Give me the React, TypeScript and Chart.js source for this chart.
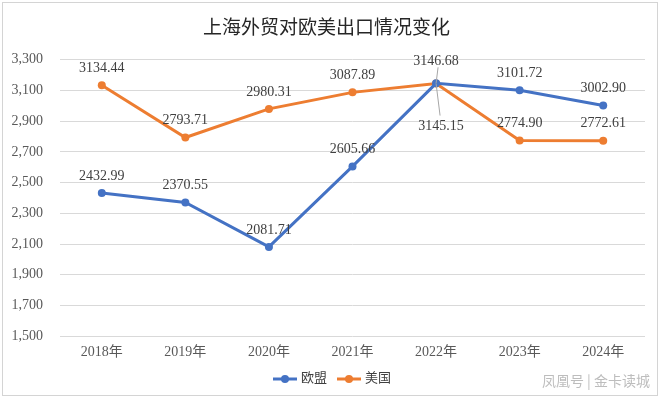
import React, { useEffect, useRef } from "react";
import { Chart, registerables } from "chart.js";

Chart.register(...registerables);

const titleText = "上海外贸对欧美出口情况变化";
const categories = ["2018年", "2019年", "2020年", "2021年", "2022年", "2023年", "2024年"];
const seriesNames = ["欧盟", "美国"];
const euValues = [2432.99, 2370.55, 2081.71, 2605.66, 3146.68, 3101.72, 3002.9];
const usValues = [3134.44, 2793.71, 2980.31, 3087.89, 3145.15, 2774.9, 2772.61];
const yMin = 1500;
const yMax = 3300;
const yStep = 200;
const watermark = "凤凰号 | 金卡读城";

const BLUE = "#4472C4";
const ORANGE = "#ED7D31";
const SERIF = "'Liberation Serif', 'DejaVu Serif', 'Noto Sans CJK SC', serif";

const valueLabels = {
  id: "valueLabels",
  afterDatasetsDraw(chart: any) {
    const ctx = chart.ctx;
    ctx.save();
    ctx.font = "14px " + SERIF;
    ctx.fillStyle = "#404040";
    ctx.textAlign = "center";
    ctx.textBaseline = "middle";
    chart.data.datasets.forEach((ds: any, di: number) => {
      const meta = chart.getDatasetMeta(di);
      meta.data.forEach((pt: any, i: number) => {
        const v = ds.data[i] as number;
        let dx = 0;
        let dy = -17;
        let leader = false;
        if (di === 0 && i === 4) {
          dy = -22;
          leader = true;
        }
        if (di === 1 && i === 4) {
          dx = 5;
          dy = 43;
          leader = true;
        }
        const tx = pt.x + dx;
        const ty = pt.y + dy;
        if (leader) {
          ctx.save();
          ctx.strokeStyle = "#a6a6a6";
          ctx.lineWidth = 1;
          ctx.beginPath();
          if (dy < 0) {
            ctx.moveTo(tx + 2, ty + 6);
            ctx.lineTo(pt.x, pt.y);
          } else {
            ctx.moveTo(pt.x, pt.y);
            ctx.lineTo(tx - 1, ty - 11);
          }
          ctx.stroke();
          ctx.restore();
        }
        ctx.fillText(v.toFixed(2), tx, ty);
      });
    });
    ctx.restore();
  },
};

const customLegend = {
  id: "customLegend",
  afterDraw(chart: any) {
    const ctx = chart.ctx;
    ctx.save();
    ctx.font = "13px " + SERIF;
    ctx.textBaseline = "middle";
    ctx.textAlign = "left";
    const lineW = 24;
    const gapText = 4;
    const gapItem = 10;
    const items = chart.data.datasets.map((ds: any) => ({
      label: ds.label as string,
      color: ds.borderColor as string,
      w: ctx.measureText(ds.label).width,
    }));
    const total =
      items.reduce((s: number, it: any) => s + lineW + gapText + it.w, 0) +
      gapItem * (items.length - 1);
    let x = chart.width / 2 + 2 - total / 2;
    const y = 379;
    items.forEach((it: any) => {
      ctx.strokeStyle = it.color;
      ctx.lineWidth = 3;
      ctx.beginPath();
      ctx.moveTo(x, y);
      ctx.lineTo(x + lineW, y);
      ctx.stroke();
      ctx.fillStyle = it.color;
      ctx.beginPath();
      ctx.arc(x + lineW / 2, y, 4, 0, Math.PI * 2);
      ctx.fill();
      ctx.fillStyle = "#404040";
      ctx.fillText(it.label, x + lineW + gapText, y);
      x += lineW + gapText + it.w + gapItem;
    });
    ctx.font = "14px 'Noto Sans CJK SC', sans-serif";
    ctx.fillStyle = "#bdbdbd";
    ctx.textAlign = "right";
    ctx.fillText(watermark, 650, 381);
    ctx.restore();
  },
};

export default function App() {
  const ref = useRef<HTMLCanvasElement>(null);
  useEffect(() => {
    document.body.style.margin = "0";
    const chart = new Chart(ref.current!, {
      type: "line",
      data: {
        labels: categories,
        datasets: [
          {
            label: seriesNames[0],
            data: euValues,
            borderColor: BLUE,
            backgroundColor: BLUE,
            borderWidth: 3,
            pointRadius: 4,
            pointBackgroundColor: BLUE,
            pointBorderWidth: 0,
            tension: 0,
          },
          {
            label: seriesNames[1],
            data: usValues,
            borderColor: ORANGE,
            backgroundColor: ORANGE,
            borderWidth: 3,
            pointRadius: 4,
            pointBackgroundColor: ORANGE,
            pointBorderWidth: 0,
            tension: 0,
          },
        ],
      },
      options: {
        animation: false,
        responsive: false,
        maintainAspectRatio: false,
        layout: { padding: { left: 8, right: 15, top: 0, bottom: 29 } },
        plugins: {
          title: {
            display: true,
            text: titleText,
            color: "#262626",
            font: { size: 19, family: "'Noto Sans CJK SC', sans-serif", weight: "normal" },
            padding: { top: 15, bottom: 22 },
          },
          legend: { display: false },
          tooltip: { enabled: false },
        },
        scales: {
          x: {
            offset: true,
            grid: { display: false, drawTicks: false },
            border: { display: false },
            ticks: { color: "#595959", font: { size: 14, family: SERIF }, padding: 8 },
          },
          y: {
            min: yMin,
            max: yMax,
            grid: { color: "#d9d9d9", drawTicks: false, lineWidth: 1 },
            border: { display: false },
            afterFit: (s: any) => {
              s.width = 52;
            },
            ticks: {
              stepSize: yStep,
              color: "#595959",
              padding: 17,
              font: { size: 14, family: SERIF },
              callback: (v: any) => Number(v).toLocaleString("en-US"),
            },
          },
        },
      },
      plugins: [valueLabels, customLegend],
    });
    return () => chart.destroy();
  }, []);
  return (
    <div
      style={{
        position: "fixed",
        left: 0,
        top: 0,
        width: 660,
        height: 398,
        background: "#fff",
      }}
    >
      <canvas ref={ref} width={660} height={398} style={{ display: "block" }} />
      <div
        style={{
          position: "absolute",
          left: 2,
          top: 2,
          width: 654,
          height: 392,
          border: "1px solid #d4d4d4",
          pointerEvents: "none",
        }}
      />
    </div>
  );
}
